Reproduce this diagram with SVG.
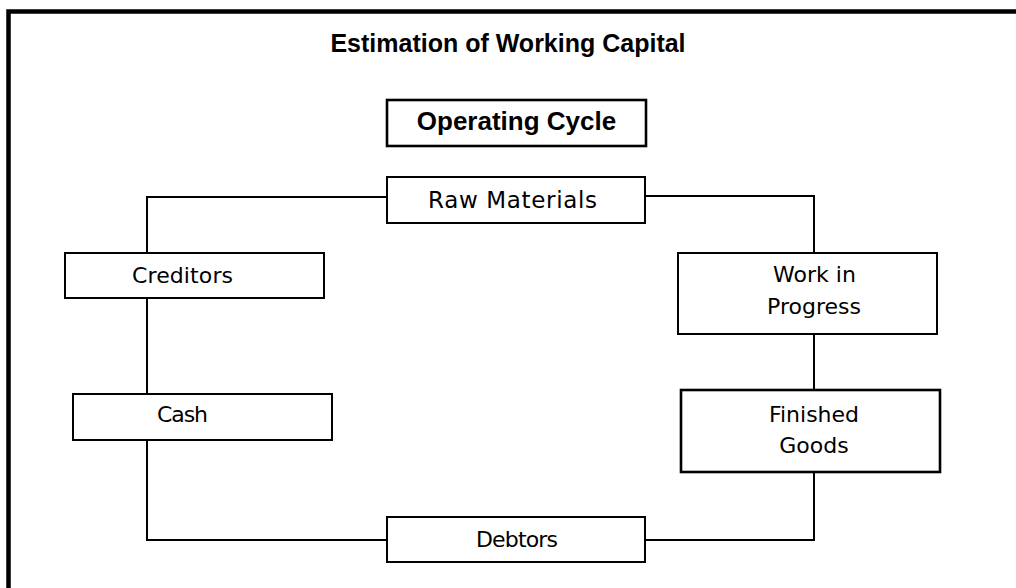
<svg xmlns="http://www.w3.org/2000/svg" width="1016" height="588" viewBox="0 0 1016 588">
<style>
.box{fill:#fff;stroke:#000;stroke-width:2}
.thick{stroke-width:2.6}
.lbl{font-family:"DejaVu Sans","Liberation Sans",sans-serif;font-size:22px;fill:#000;text-anchor:middle}
.bold{font-family:"Liberation Sans",Arial,sans-serif;font-weight:bold}
.conn{fill:none;stroke:#000;stroke-width:2}
</style>
<rect x="8.5" y="11.5" width="1030" height="600" fill="#fff" stroke="#000" stroke-width="4.5"/>
<text id="title" class="lbl bold" x="508" y="52" style="font-size:25px">Estimation of Working Capital</text>
<g id="connectors">
<polyline class="conn" points="387,197 147,197 147,253"/>
<line class="conn" x1="147" y1="298" x2="147" y2="394"/>
<polyline class="conn" points="147,440 147,540 387,540"/>
<polyline class="conn" points="645,540 814,540 814,472"/>
<line class="conn" x1="814" y1="334" x2="814" y2="390"/>
<polyline class="conn" points="814,253 814,196 645,196"/>
</g>
<g id="operating-cycle">
<rect class="box thick" x="387" y="100" width="259" height="46"/>
<text class="lbl bold" x="516.5" y="130" style="font-size:26px">Operating Cycle</text>
</g>
<g id="raw-materials">
<rect class="box" x="387" y="177" width="258" height="46"/>
<text class="lbl" x="512.5" y="208" style="font-size:23px" textLength="169">Raw Materials</text>
</g>
<g id="creditors">
<rect class="box" x="65" y="253" width="259" height="45"/>
<text class="lbl" x="182.5" y="283" textLength="101">Creditors</text>
</g>
<g id="work-in-progress">
<rect class="box" x="678" y="253" width="259" height="81"/>
<text class="lbl" x="814.5" y="282">Work in</text>
<text class="lbl" x="814" y="314">Progress</text>
</g>
<g id="cash">
<rect class="box" x="73" y="394" width="259" height="46"/>
<text class="lbl" x="182.5" y="422" textLength="51">Cash</text>
</g>
<g id="finished-goods">
<rect class="box thick" x="681" y="390" width="259" height="82"/>
<text class="lbl" x="814" y="422">Finished</text>
<text class="lbl" x="814" y="453">Goods</text>
</g>
<g id="debtors">
<rect class="box" x="387" y="517" width="258" height="45"/>
<text class="lbl" x="517" y="547" textLength="82">Debtors</text>
</g>
</svg>
